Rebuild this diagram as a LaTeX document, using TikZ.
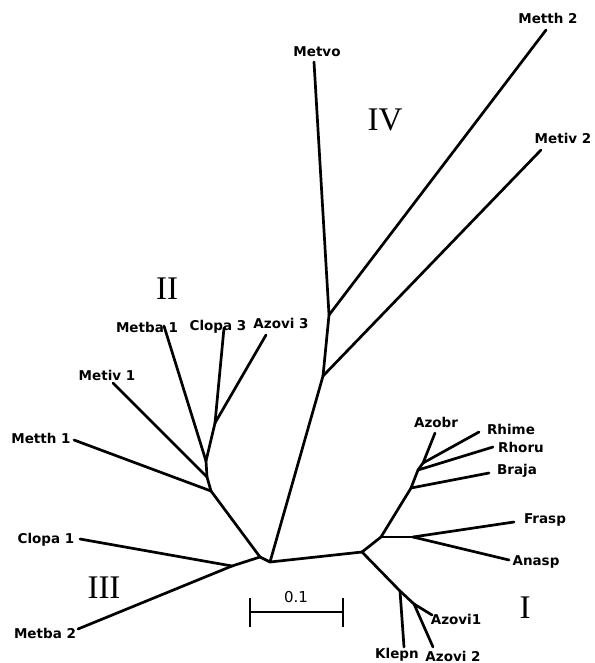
\documentclass[tikz,border=0pt]{standalone}
\usepackage{fontspec}
\newfontfamily\taxonfont{DejaVu Sans}
\newfontfamily\cladefont{Liberation Serif}
\begin{document}
\begin{tikzpicture}[x=1pt, y=-1pt,
      taxon/.style = {
        inner sep=0pt, font=\taxonfont\bfseries\fontsize{13.5}{15}\selectfont },
      clade/.style = {
        inner sep=0pt, font=\cladefont\fontsize{33}{36}\selectfont },
      scalelabel/.style = {
        inner sep=0pt, font=\taxonfont\fontsize{15}{17}\selectfont },
      branch/.style = { draw, line width=2.7pt, line cap=round, line join=round }]
    \useasboundingbox (0, 0) rectangle (594, 663);
    % inner nodes of the tree
    \coordinate (root) at (270, 562);
    \coordinate (left) at (260, 557);
    \coordinate (n3) at (232, 566);
    \coordinate (n2a) at (211, 491);
    \coordinate (n2b) at (207, 477);
    \coordinate (n2c) at (206, 461);
    \coordinate (n2d) at (215, 423);
    \coordinate (n4a) at (323, 376);
    \coordinate (n4b) at (329, 315);
    \coordinate (right) at (362, 552);
    \coordinate (n1a) at (381, 537);
    \coordinate (n1b) at (413, 537);
    \coordinate (n1c) at (411, 488);
    \coordinate (n1d) at (418, 470);
    \coordinate (n1e) at (423, 463);
    \coordinate (n1f) at (400, 591);
    \coordinate (n1g) at (414, 604);
    % tips of the leaves
    \coordinate (tClopaA) at (80, 539);
    \coordinate (tMetbaB) at (78, 629);
    \coordinate (tMetthA) at (74, 440);
    \coordinate (tMetivA) at (113, 383);
    \coordinate (tMetbaA) at (164, 326);
    \coordinate (tClopaC) at (224, 328);
    \coordinate (tAzoviC) at (266, 335);
    \coordinate (tMetvo) at (314, 62);
    \coordinate (tMetthB) at (546, 30);
    \coordinate (tMetivB) at (541, 150);
    \coordinate (tFrasp) at (514, 522);
    \coordinate (tAnasp) at (509, 560);
    \coordinate (tBraja) at (489, 473);
    \coordinate (tRhoru) at (493, 447);
    \coordinate (tRhime) at (479, 432);
    \coordinate (tAzobr) at (435, 433);
    \coordinate (tKlepn) at (404, 647);
    \coordinate (tAzoviA) at (432, 615);
    \coordinate (tAzoviB) at (433, 647);
    % leaf names
    \node [taxon] (clopa1) at (46, 540) {Clopa 1};
    \node [taxon] (metba2) at (45, 633) {Metba 2};
    \node [taxon] (metth1) at (41, 438) {Metth 1};
    \node [taxon] (metiv1) at (107, 375) {Metiv 1};
    \node [taxon] (metba1) at (147, 327) {Metba 1};
    \node [taxon] (clopa3) at (218, 327) {Clopa 3};
    \node [taxon] (azovi3) at (281, 323) {Azovi 3};
    \node [taxon] (metvo) at (317, 52) {Metvo};
    \node [taxon] (metth2) at (548, 18) {Metth 2};
    \node [taxon] (metiv2) at (563, 138) {Metiv 2};
    \node [taxon] (frasp) at (545, 520) {Frasp};
    \node [taxon] (anasp) at (536, 562) {Anasp};
    \node [taxon] (braja) at (517, 471) {Braja};
    \node [taxon] (rhoru) at (521, 447) {Rhoru};
    \node [taxon] (rhime) at (511, 429) {Rhime};
    \node [taxon] (azobr) at (436, 422) {Azobr};
    \node [taxon] (klepn) at (397, 655) {Klepn};
    \node [taxon] (azovi1) at (456, 619) {Azovi1};
    \node [taxon] (azovi2) at (453, 656) {Azovi 2};
    % group numerals
    \node [clade] (groupI) at (525, 608) {I};
    \node [clade] (groupII) at (167, 289) {II};
    \node [clade] (groupIII) at (104, 588) {III};
    \node [clade] (groupIV) at (385, 120) {IV};
    % connect all nodes defined above
    \draw[branch] (root) -- (left);
    \draw[branch] (left) -- (n3);
    \draw[branch] (n3) -- (tClopaA);
    \draw[branch] (n3) -- (tMetbaB);
    \draw[branch] (left) -- (n2a);
    \draw[branch] (n2a) -- (tMetthA);
    \draw[branch] (n2a) -- (n2b);
    \draw[branch] (n2b) -- (tMetivA);
    \draw[branch] (n2b) -- (n2c);
    \draw[branch] (n2c) -- (tMetbaA);
    \draw[branch] (n2c) -- (n2d);
    \draw[branch] (n2d) -- (tClopaC);
    \draw[branch] (n2d) -- (tAzoviC);
    \draw[branch] (root) -- (n4a);
    \draw[branch] (n4a) -- (tMetivB);
    \draw[branch] (n4a) -- (n4b);
    \draw[branch] (n4b) -- (tMetthB);
    \draw[branch] (n4b) -- (tMetvo);
    \draw[branch] (root) -- (right);
    \draw[branch] (right) -- (n1a);
    \draw[branch] (n1a) -- (n1b);
    \draw[branch] (n1b) -- (tFrasp);
    \draw[branch] (n1b) -- (tAnasp);
    \draw[branch] (n1a) -- (n1c);
    \draw[branch] (n1c) -- (tBraja);
    \draw[branch] (n1c) -- (n1d);
    \draw[branch] (n1d) -- (tRhoru);
    \draw[branch] (n1d) -- (n1e);
    \draw[branch] (n1e) -- (tRhime);
    \draw[branch] (n1e) -- (tAzobr);
    \draw[branch] (right) -- (n1f);
    \draw[branch] (n1f) -- (tKlepn);
    \draw[branch] (n1f) -- (n1g);
    \draw[branch] (n1g) -- (tAzoviA);
    \draw[branch] (n1g) -- (tAzoviB);
    % scale bar
    \coordinate (barL) at (250, 612);
    \coordinate (barR) at (343, 612);
    \node [scalelabel] (barlabel) at (296, 597) {0.1};
    \draw[branch, line cap=butt] (barL) -- (barR);
    \draw[branch, line cap=butt] ([yshift=14pt]barL) -- ([yshift=-15pt]barL);
    \draw[branch, line cap=butt] ([yshift=14pt]barR) -- ([yshift=-15pt]barR);
  \end{tikzpicture}
\end{document}
